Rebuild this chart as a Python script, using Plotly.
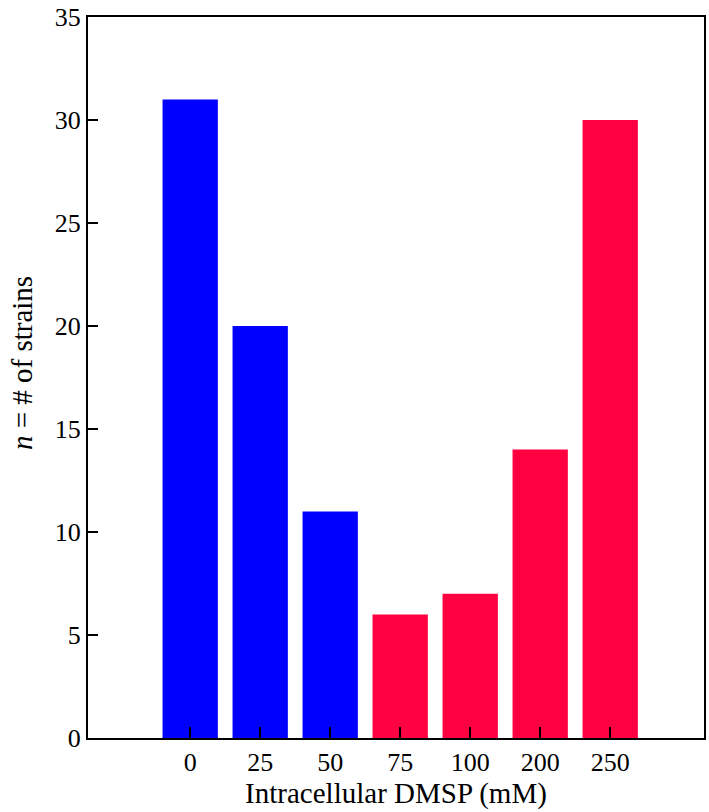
import plotly.graph_objects as go

categories = ["0", "25", "50", "75", "100", "200", "250"]
counts = [31, 20, 11, 6, 7, 14, 30]
bar_colors = ["#0000FF", "#0000FF", "#0000FF", "#FF0040", "#FF0040", "#FF0040", "#FF0040"]
y_ticks = [0, 5, 10, 15, 20, 25, 30, 35]

fig = go.Figure(go.Bar(x=list(range(len(categories))), y=counts, marker_color=bar_colors,
                       marker_line_width=0, width=0.79))

font = dict(family="Liberation Serif, Times New Roman, serif", color="black")
fig.update_layout(
    width=709, height=812,
    margin=dict(l=88, r=3, t=16, b=74),
    plot_bgcolor="white", paper_bgcolor="white",
    font=dict(size=26, **font),
    showlegend=False,
)
fig.update_xaxes(
    range=[-1.46, 7.34],
    tickvals=list(range(len(categories))), ticktext=categories,
    ticks="inside", ticklen=11, tickwidth=2, tickcolor="black",
    showline=True, linecolor="black", linewidth=2, mirror=True,
    showgrid=False, zeroline=False,
    tickfont=dict(size=26, **font),
    title=dict(text="Intracellular DMSP (mM)", font=dict(size=29, **font), standoff=0),
)
fig.update_yaxes(
    range=[0, 35],
    tickvals=y_ticks,
    ticks="inside", ticklen=10, tickwidth=2, tickcolor="black",
    showline=True, linecolor="black", linewidth=2, mirror=True,
    showgrid=False, zeroline=False,
    tickfont=dict(size=26, **font),
)
fig.add_annotation(
    text="<i>n</i> = # of strains", textangle=-90,
    xref="paper", yref="paper", x=0, y=0.52, xanchor="center", yanchor="middle",
    xshift=-66, showarrow=False, font=dict(size=29, **font),
)
fig.write_html("out.html", config={"displayModeBar": False},
               post_script="document.body.style.margin='0';document.body.style.overflow='hidden';")
